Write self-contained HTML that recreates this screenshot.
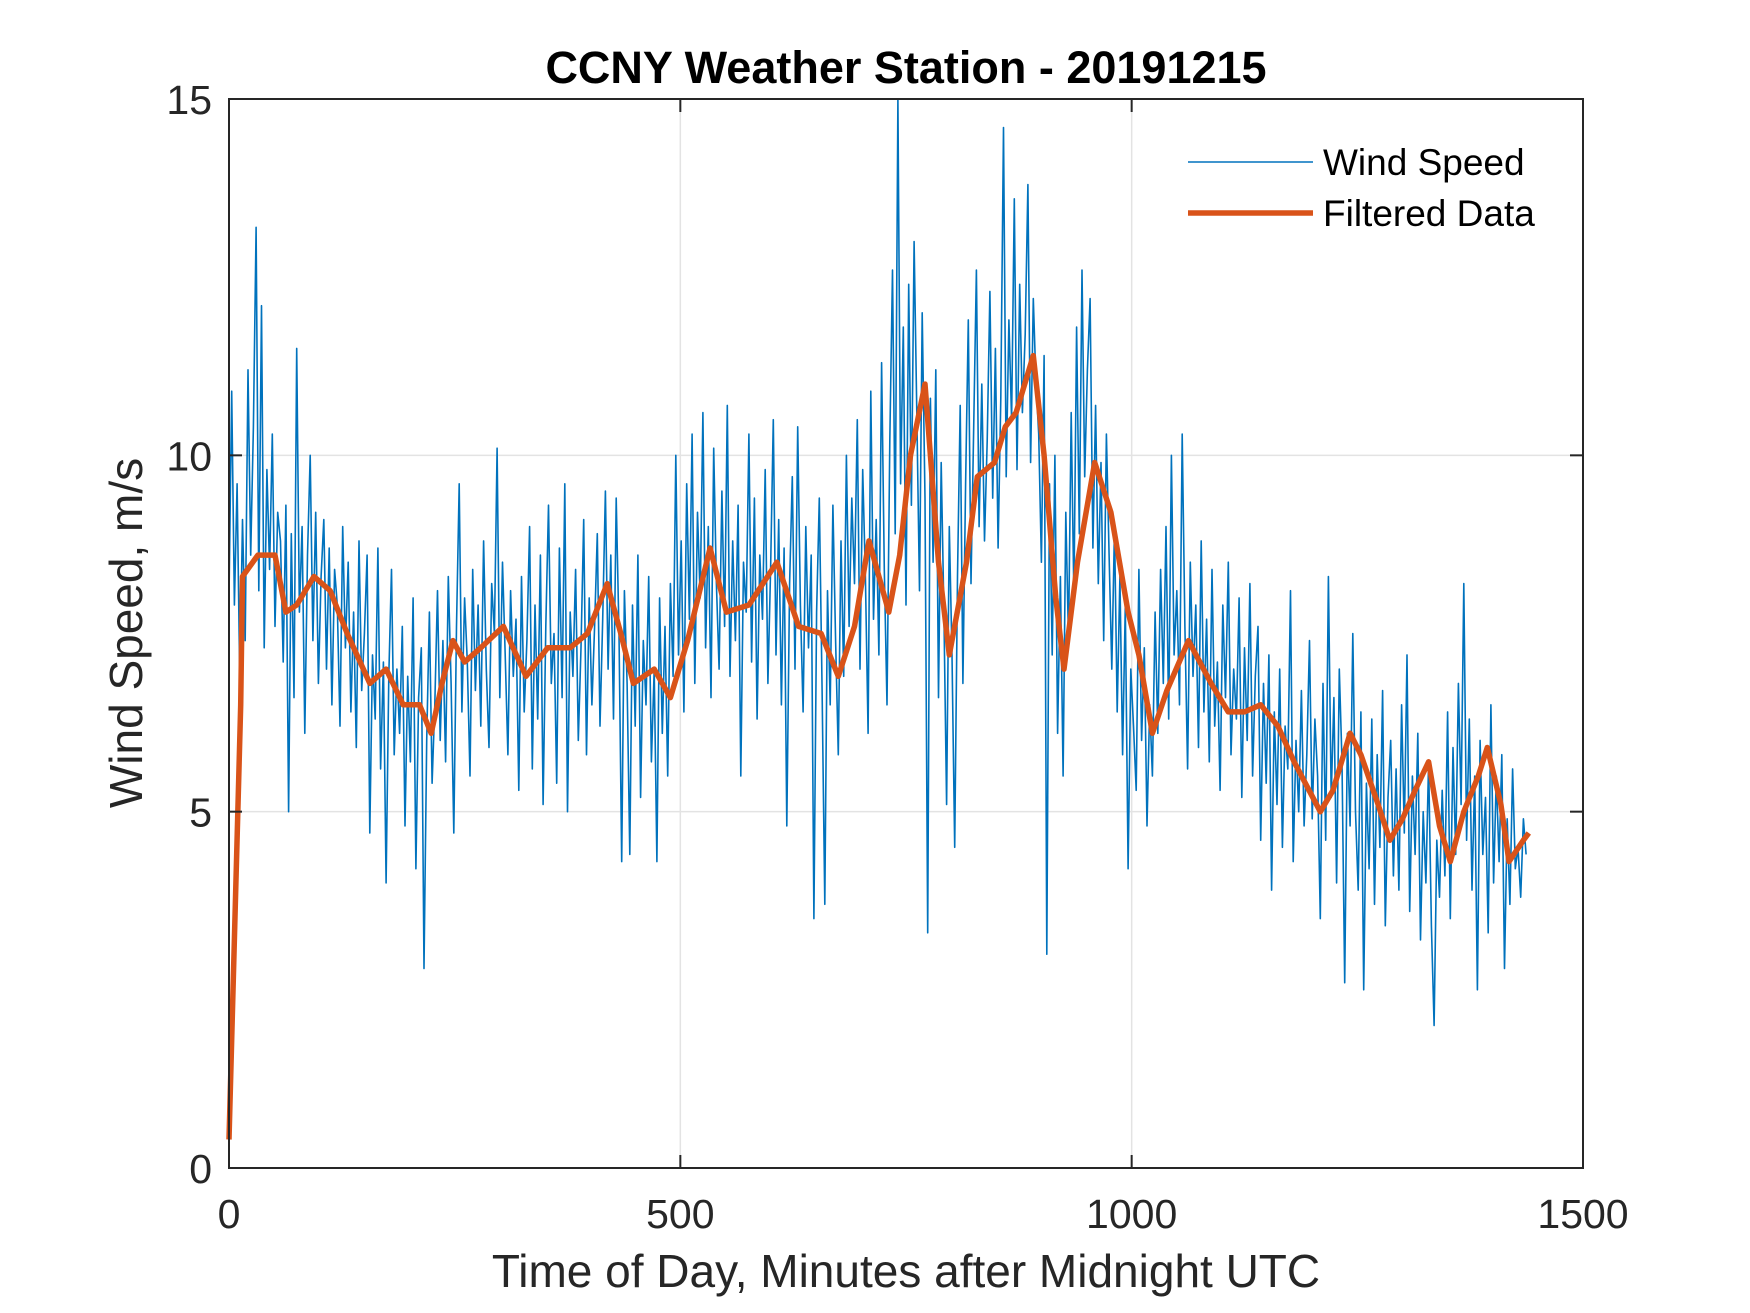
<!DOCTYPE html>
<html><head><meta charset="utf-8"><style>
html,body{margin:0;padding:0;background:#fff;}
svg{display:block;font-family:"Liberation Sans",Arial,sans-serif;}
</style></head><body>
<svg id="chart" width="1750" height="1313" viewBox="0 0 1750 1313">
<rect width="1750" height="1313" fill="#fff"/>
<g id="grid"></g>
<g id="series"></g>
<rect x="229" y="99" width="1354" height="1069" fill="none" stroke="#262626" stroke-width="2"/>
<g id="ticks"></g>
<text x="906" y="83" text-anchor="middle" font-size="45" font-weight="bold" fill="#000">CCNY Weather Station - 20191215</text>
<text x="906" y="1287" text-anchor="middle" font-size="46" fill="#262626">Time of Day, Minutes after Midnight UTC</text>
<text transform="translate(142,633) rotate(-90)" text-anchor="middle" font-size="46" fill="#262626">Wind Speed, m/s</text>
<g>
<g>
<line x1="1188" y1="162" x2="1313" y2="162" stroke="#0072BD" stroke-width="1.5"/>
<text x="1323" y="175" font-size="37" fill="#000">Wind Speed</text>
</g>
<g>
<line x1="1188" y1="213" x2="1313" y2="213" stroke="#D95319" stroke-width="5.5"/>
<text x="1323" y="226" font-size="37" fill="#000">Filtered Data</text>
</g>
</g>
</svg>
<script>
const xTicks=[0,500,1000,1500];
const yTicks=[0,5,10,15];
const windStep=3;
const windValues=[
8.0,10.9,7.9,9.6,6.8,9.1,7.4,11.2,8.6,10.4,13.2,8.1,12.1,7.3,9.8,8.4,10.3,7.6,9.2,8.8,
7.1,9.3,5.0,8.9,6.6,11.5,7.8,9.0,6.1,8.6,10.0,7.4,9.2,6.8,8.3,9.1,7.0,8.7,6.5,8.4,
7.9,6.2,9.0,7.3,8.5,6.4,7.8,5.9,8.8,6.7,7.5,8.6,4.7,7.2,6.3,8.7,5.6,7.1,4.0,6.9,
8.4,5.8,7.0,6.1,7.6,4.8,6.9,5.7,8.0,4.2,6.6,7.3,2.8,6.0,7.8,5.4,6.5,8.1,6.0,7.4,
5.7,8.3,6.8,4.7,7.6,9.6,6.4,8.0,7.1,5.5,8.4,6.7,7.9,6.2,8.8,7.0,5.9,8.2,7.5,10.1,
6.6,8.5,7.2,5.8,8.1,6.9,7.7,5.3,8.3,6.4,7.4,9.0,5.6,7.9,6.3,8.6,5.1,7.6,9.3,6.8,
7.5,5.4,8.7,6.6,9.6,5.0,7.8,6.9,8.4,6.0,7.3,9.1,5.8,8.0,6.5,7.6,8.9,6.2,7.7,9.5,
7.0,8.6,6.3,9.4,7.5,4.3,8.1,6.8,4.4,7.9,6.2,8.6,5.2,7.4,6.5,8.3,5.7,7.0,4.3,8.0,
6.1,7.6,5.5,8.2,6.9,10.0,7.2,8.8,6.4,9.6,7.7,10.3,6.8,9.2,8.0,10.6,7.3,9.0,6.6,10.1,
8.2,7.0,9.5,7.6,10.7,6.9,8.8,7.4,9.3,5.5,8.5,7.8,10.3,7.1,9.4,6.3,8.6,7.7,9.8,6.8,
8.4,10.5,7.2,9.1,6.5,8.7,4.8,8.2,9.7,7.0,10.4,7.9,6.4,9.0,7.3,8.6,3.5,7.8,9.4,6.7,
3.7,8.1,6.5,9.3,7.4,5.8,8.8,6.9,10.0,7.6,9.4,8.2,10.5,7.0,9.8,8.3,6.1,10.9,7.7,9.1,
7.2,11.3,8.4,6.5,10.2,12.6,8.9,15.0,9.6,11.8,7.9,12.4,9.3,13.0,10.6,8.1,12.0,9.4,3.3,10.8,
8.5,11.2,6.6,9.9,7.8,5.1,9.0,7.2,4.5,8.3,10.7,6.8,9.6,11.9,8.2,10.4,12.6,9.0,11.0,8.8,
10.2,12.3,9.4,11.5,8.7,10.8,14.6,9.7,11.9,10.5,13.6,9.8,12.4,10.6,11.7,13.8,9.9,12.2,11.0,10.3,
8.5,11.4,3.0,9.6,7.2,10.0,6.1,8.3,5.5,9.2,7.4,10.6,8.0,11.8,8.9,12.6,9.7,11.2,12.2,8.7,
10.7,8.2,9.9,7.4,10.3,8.6,7.0,9.0,6.4,8.3,5.8,7.9,4.2,7.0,6.2,5.3,8.4,6.0,7.3,4.8,
6.5,5.5,7.8,6.1,8.4,6.8,9.0,6.3,10.0,7.2,8.1,6.5,10.3,7.6,5.6,8.5,6.9,7.9,5.9,8.8,
6.4,7.7,5.7,8.4,6.2,7.1,5.3,7.9,6.6,8.5,5.8,7.0,6.3,8.0,5.2,7.3,6.0,8.2,5.5,6.9,
7.6,4.6,6.8,5.4,7.2,3.9,6.4,5.1,7.0,4.5,6.2,5.6,8.1,4.3,6.0,5.0,6.7,4.8,5.8,7.4,
4.9,6.3,5.5,3.5,6.8,4.6,8.3,5.2,6.6,4.0,7.0,5.7,2.6,6.1,4.8,7.5,5.0,3.9,6.4,2.5,
5.4,4.2,6.3,3.7,5.8,4.5,6.7,3.4,5.2,6.0,4.1,5.6,3.9,6.5,4.7,7.2,3.6,5.5,4.4,6.1,
3.2,5.0,4.0,5.7,3.4,2.0,4.6,3.8,5.3,4.1,6.4,3.5,5.9,4.4,6.8,5.1,8.2,4.6,6.3,3.9,
5.5,2.5,6.0,4.4,5.2,3.3,6.5,4.0,5.5,4.3,5.8,2.8,4.9,3.7,5.6,4.2,4.5,3.8,4.9,4.4
];
const filtT=[0,13,15,32,51,63,75,94,112,131,156,174,193,211,224,236,248,261,279,304,329,353,378,397,419,434,448,471,489,508,533,551,576,607,631,656,675,693,709,731,743,755,771,786,798,817,829,848,860,872,891,903,916,925,940,959,977,996,1008,1023,1039,1063,1088,1107,1125,1143,1162,1180,1209,1223,1242,1254,1273,1286,1300,1314,1329,1341,1353,1368,1384,1394,1409,1418,1434,1440];
const filtV=[0.4,6.5,8.3,8.6,8.6,7.8,7.9,8.3,8.1,7.5,6.8,7.0,6.5,6.5,6.1,6.8,7.4,7.1,7.3,7.6,6.9,7.3,7.3,7.5,8.2,7.5,6.8,7.0,6.6,7.4,8.7,7.8,7.9,8.5,7.6,7.5,6.9,7.6,8.8,7.8,8.6,10.0,11.0,8.5,7.2,8.5,9.7,9.9,10.4,10.6,11.4,10.0,8.0,7.0,8.5,9.9,9.2,7.8,7.2,6.1,6.7,7.4,6.8,6.4,6.4,6.5,6.2,5.7,5.0,5.3,6.1,5.8,5.1,4.6,4.9,5.3,5.7,4.8,4.3,5.0,5.5,5.9,5.1,4.3,4.6,4.7];

const X0=229,X1=1583,Y0=1168,Y1=99;
function xs(v){return X0+(v-0)/(1500-0)*(X1-X0);}
function ys(v){return Y0-(v-0)/(15-0)*(Y0-Y1);}
const NS='http://www.w3.org/2000/svg';
const grid=document.getElementById('grid'),ticks=document.getElementById('ticks'),series=document.getElementById('series');
function mk(tag,attrs,parent){const e=document.createElementNS(NS,tag);for(const k in attrs)e.setAttribute(k,attrs[k]);parent.appendChild(e);return e;}
xTicks.forEach(function(t){
  const x=xs(t);
  if(t>0&&t<1500){const g=mk('line',{x1:x,y1:Y1,x2:x,y2:Y0,stroke:'#e3e3e3','stroke-width':1.5},grid);
    
    }
  mk('line',{x1:x,y1:Y0,x2:x,y2:Y0-13,stroke:'#262626','stroke-width':2},ticks);
  mk('line',{x1:x,y1:Y1,x2:x,y2:Y1+13,stroke:'#262626','stroke-width':2},ticks);
  const l=mk('text',{x:x,y:1228,'text-anchor':'middle','font-size':41,fill:'#262626'},ticks);
  l.textContent=t;
  
  
});
yTicks.forEach(function(t){
  const y=ys(t);
  if(t>0&&t<15){const g=mk('line',{x1:X0,y1:y,x2:X1,y2:y,stroke:'#e3e3e3','stroke-width':1.5},grid);
    
    }
  mk('line',{x1:X0,y1:y,x2:X0+13,y2:y,stroke:'#262626','stroke-width':2},ticks);
  mk('line',{x1:X1,y1:y,x2:X1-13,y2:y,stroke:'#262626','stroke-width':2},ticks);
  const l=mk('text',{x:212,y:y+15,'text-anchor':'end','font-size':41,fill:'#262626'},ticks);
  l.textContent=t;
  
  
});
let d='';
windValues.forEach(function(v,i){d+=(i?'L':'M')+xs(i*windStep).toFixed(1)+' '+ys(v).toFixed(1);});
const w=mk('path',{d:d,fill:'none',stroke:'#0072BD','stroke-width':1.6,'stroke-linejoin':'round'},series);


let d2='';
filtV.forEach(function(v,i){d2+=(i?'L':'M')+xs(filtT[i]).toFixed(1)+' '+ys(v).toFixed(1);});
const f=mk('path',{d:d2,fill:'none',stroke:'#D95319','stroke-width':5.5,'stroke-linejoin':'round'},series);


</script>
</body></html>
